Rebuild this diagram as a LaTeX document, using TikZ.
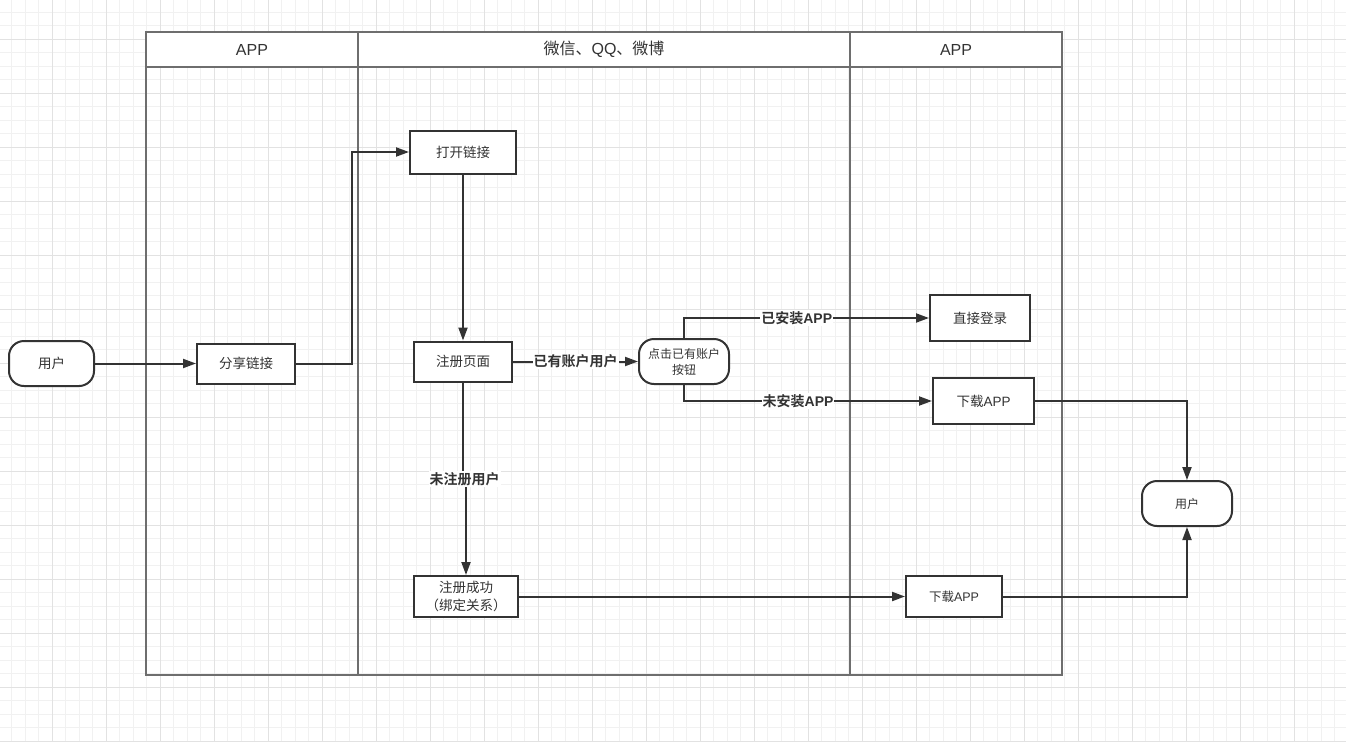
\documentclass[tikz,border=0pt]{standalone}
\usepackage{fontspec}
\setmainfont{Liberation Sans}
\newfontfamily\cjk{Noto Sans CJK SC}[BoldFont={Noto Sans CJK SC Bold}]
\usetikzlibrary{arrows.meta}
\definecolor{gridminor}{HTML}{F1F1F1}
\definecolor{gridmajor}{HTML}{E2E2E2}
\definecolor{ink}{HTML}{333333}
\definecolor{poolc}{HTML}{6E6E6E}
\tikzset{
  box/.style={draw=ink, line width=2pt, fill=white, text=ink, inner sep=0pt,
    font=\fontsize{13.5}{16}\selectfont, align=center},
  term/.style={box, rounded corners=15pt},
  smalltext/.style={font=\fontsize{12}{16}\selectfont},
  conn/.style={draw=ink, line width=2pt, -{Triangle[length=13pt,width=9pt]}},
  lab/.style={fill=white, text=ink, inner sep=1pt, font=\bfseries\fontsize{14}{16}\selectfont},
  hdr/.style={text=ink, inner sep=0pt, font=\fontsize{16}{18}\selectfont},
  poolline/.style={draw=poolc, line width=1.3pt}
}
\begin{document}
\begin{tikzpicture}[x=1pt,y=-1pt]
\useasboundingbox (0,0) rectangle (1346,742);
\fill[white] (0,0) rectangle (1346,742);
% grid
\foreach \i in {0,...,99} {\draw[gridminor, line width=1pt] ({11.8+13.5*\i},0) -- ({11.8+13.5*\i},742);}
\foreach \i in {0,...,54} {\draw[gridminor, line width=1pt] (0,{12.3+13.5*\i}) -- (1346,{12.3+13.5*\i});}
\foreach \i in {0,...,23} {\draw[gridmajor, line width=1pt] ({52.3+54*\i},0) -- ({52.3+54*\i},742);}
\foreach \i in {0,...,13} {\draw[gridmajor, line width=1pt] (0,{39.3+54*\i}) -- (1346,{39.3+54*\i});}
% pool
\fill[white] (146,32) rectangle (1062,67);
\draw[poolline] (146,32) rectangle (1062,675);
\draw[poolline] (146,67) -- (1062,67);
\draw[poolline] (358,32) -- (358,675);
\draw[poolline] (850,32) -- (850,675);
\node[hdr] (h1) at (252,49.5) {APP};
\node[hdr] (h2) at (604,49.5) {{\cjk 微信、}QQ{\cjk 、微博}};
\node[hdr] (h3) at (956,49.5) {APP};
% nodes
\node[term, minimum width=85pt, minimum height=45pt] (u1) at (51.5,363.5) {\cjk 用户};
\node[box, minimum width=98pt, minimum height=40pt] (share) at (246,363.5) {\cjk 分享链接};
\node[box, minimum width=106pt, minimum height=43pt] (open) at (463,152) {\cjk 打开链接};
\node[box, minimum width=98pt, minimum height=40pt] (reg) at (463,361.5) {\cjk 注册页面};
\node[term, smalltext, minimum width=90pt, minimum height=45pt] (click) at (684,361.5) {{\cjk 点击已有账户}\\{\cjk 按钮}};
\node[box, minimum width=100pt, minimum height=46pt] (login) at (980,318) {\cjk 直接登录};
\node[box, minimum width=101pt, minimum height=46pt] (dl1) at (983.5,401) {{\cjk 下载}APP};
\node[term, smalltext, minimum width=90pt, minimum height=45pt] (u2) at (1187,503.5) {\cjk 用户};
\node[box, font=\fontsize{13.5}{18}\selectfont, minimum width=104pt, minimum height=41pt] (succ) at (466,596.5) {{\cjk 注册成功}\\{\cjk （绑定关系）}};
\node[box, font=\fontsize{12.5}{16}\selectfont, minimum width=96pt, minimum height=41pt] (dl2) at (954,596.5) {{\cjk 下载}APP};
% connectors
\coordinate (bend) at (352,152);
\coordinate (jog) at (464.5,479);
\draw[conn] (u1.east) -- (share.west);
\draw[conn] (share.east) -| (bend) -- (open.west);
\draw[conn] (open.south) -- (reg.north);
\draw[conn] (reg.east) -- node[lab] {\cjk 已有账户用户} (click.west);
\draw[conn] (click.north) |- node[lab, pos=0.73] {{\cjk 已安装}APP} (login.west);
\draw[conn] (click.south) |- node[lab, pos=0.73] {{\cjk 未安装}APP} (dl1.west);
\draw[conn] (reg.south) |- (jog) -| (succ.north);
\node[lab] (jlab) at (jog) {\cjk 未注册用户};
\draw[conn] (succ.east) -- (dl2.west);
\draw[conn] (dl1.east) -| (u2.north);
\draw[conn] (dl2.east) -| (u2.south);
\end{tikzpicture}
\end{document}
